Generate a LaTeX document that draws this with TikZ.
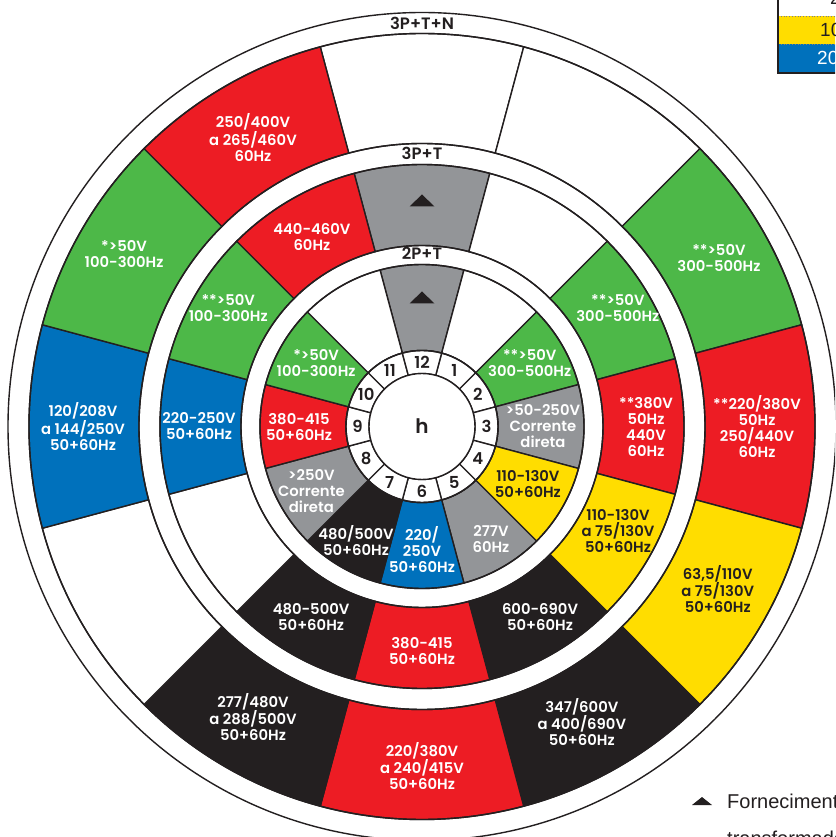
\documentclass[tikz,border=0pt]{standalone}
\usepackage{fontspec}
\setmainfont{Poppins}[BoldFont={Poppins SemiBold}]
\newfontfamily\capfont{Liberation Sans}
\usetikzlibrary{positioning}
\definecolor{segred}{RGB}{237,28,36}
\definecolor{seggreen}{RGB}{77,184,72}
\definecolor{segblue}{RGB}{0,113,188}
\definecolor{segyellow}{RGB}{255,221,0}
\definecolor{seggray}{RGB}{147,149,152}
\definecolor{ink}{RGB}{35,31,32}
\newcommand{\RingSeg}[4]{%
  \filldraw[fill=#4,draw=ink,line width=1.4pt,line join=round] (#3-15:#1) arc[start angle=#3-15,end angle=#3+15,radius=#1]
    -- (#3+15:#2) arc[start angle=#3+15,end angle=#3-15,radius=#2] -- cycle;}

\begin{document}
\begin{tikzpicture}[x=1pt,y=1pt]
    \tikzset{segtxt/.style={align=center,inner sep=0pt,text=white,
        font=\bfseries\fontsize{14.8}{16}\selectfont},
      darktxt/.style={segtxt,text=ink},
      bandtxt/.style={inner sep=0pt,text=ink,font=\bfseries\fontsize{16.5}{17}\selectfont},
      numtxt/.style={inner sep=0pt,text=ink,font=\bfseries\fontsize{16.5}{17}\selectfont},
      captxt/.style={anchor=base west,inner sep=0pt,text=ink,font=\capfont\fontsize{19}{19}\selectfont},
      ring/.style={draw=ink,line width=1.4pt}}
    \useasboundingbox (-422,-410.5) rectangle (413,426.5);
    \clip (-422,-410.5) rectangle (413,426.5);
    \fill[white] (-422,-410.5) rectangle (413,426.5);
    % 3P+T+N
    \RingSeg{283}{393}{90}{white}
    \RingSeg{283}{393}{60}{white}
    \RingSeg{283}{393}{30}{seggreen}
    \RingSeg{283}{393}{0}{segred}
    \RingSeg{283}{393}{-30}{segyellow}
    \RingSeg{283}{393}{-60}{ink}
    \RingSeg{283}{393}{-90}{segred}
    \RingSeg{283}{393}{-120}{ink}
    \RingSeg{283}{393}{-150}{white}
    \RingSeg{283}{393}{180}{segblue}
    \RingSeg{283}{393}{150}{seggreen}
    \RingSeg{283}{393}{120}{segred}
    % 3P+T
    \RingSeg{181}{262}{90}{seggray}
    \RingSeg{181}{262}{60}{white}
    \RingSeg{181}{262}{30}{seggreen}
    \RingSeg{181}{262}{0}{segred}
    \RingSeg{181}{262}{-30}{segyellow}
    \RingSeg{181}{262}{-60}{ink}
    \RingSeg{181}{262}{-90}{segred}
    \RingSeg{181}{262}{-120}{ink}
    \RingSeg{181}{262}{-150}{white}
    \RingSeg{181}{262}{180}{segblue}
    \RingSeg{181}{262}{150}{seggreen}
    \RingSeg{181}{262}{120}{segred}
    % 2P+T
    \RingSeg{76}{162}{90}{seggray}
    \RingSeg{76}{162}{60}{white}
    \RingSeg{76}{162}{30}{seggreen}
    \RingSeg{76}{162}{0}{seggray}
    \RingSeg{76}{162}{-30}{segyellow}
    \RingSeg{76}{162}{-60}{seggray}
    \RingSeg{76}{162}{-90}{segblue}
    \RingSeg{76}{162}{-120}{ink}
    \RingSeg{76}{162}{-150}{seggray}
    \RingSeg{76}{162}{180}{segred}
    \RingSeg{76}{162}{150}{seggreen}
    \RingSeg{76}{162}{120}{white}
    % hours
    \foreach \h in {1,...,12} {
      \RingSeg{53}{76}{90-30*\h}{white}
      \node[numtxt] (n\h) at ({90-30*\h}:64.5) {\h};
    }
    \draw[ring] (0,0) circle[radius=414];
    \draw[ring] (0,0) circle[radius=393];
    \draw[ring] (0,0) circle[radius=283];
    \draw[ring] (0,0) circle[radius=262];
    \draw[ring] (0,0) circle[radius=181];
    \draw[ring] (0,0) circle[radius=162];
    \draw[ring] (0,0) circle[radius=76];
    \draw[ring,fill=white] (0,0) circle[radius=53];
    \node[inner sep=0pt,text=ink,font=\bfseries\fontsize{20}{20}\selectfont] (h) at (0,0) {h};
    \node[bandtxt] (b3) at (90:403.5) {3P+T+N};
    \node[bandtxt] (b2) at (90:273) {3P+T};
    \node[bandtxt] (b1) at (90:173) {2P+T};
    % triangles
    \fill[ink] (0,226) ++(-12.5,-6) -- ++(25,0) -- ++(-12.5,12) -- cycle;
    \fill[ink] (0,129) ++(-12.5,-6) -- ++(25,0) -- ++(-12.5,12) -- cycle;
    % outer texts
    \node[segtxt] (o11) at (120.3:335) {250/400V\\a 265/460V\\60Hz};
    \node[segtxt] (o10) at (150:344) {*>50V\\100-300Hz};
    \node[segtxt] (o9) at (180:339) {120/208V\\a 144/250V\\50+60Hz};
    \node[segtxt] (o7) at (-120.2:336) {277/480V\\a 288/500V\\50+60Hz};
    \node[segtxt] (o6) at (-90:339.5) {220/380V\\a 240/415V\\50+60Hz};
    \node[segtxt] (o5) at (-61.6:336) {347/600V\\a 400/690V\\50+60Hz};
    \node[darktxt] (o4) at (-28.8:337.5) {63,5/110V\\a 75/130V\\50+60Hz};
    \node[segtxt] (o3) at (0:335) {**220/380V\\50Hz\\250/440V\\60Hz};
    \node[segtxt] (o2) at (29.6:341.5) {**>50V\\300-500Hz};
    % middle texts
    \node[segtxt] (m11) at (120.1:219.5) {440-460V\\60Hz};
    \node[segtxt] (m10) at (148.6:227) {**>50V\\100-300Hz};
    \node[segtxt] (m9) at (180:223) {220-250V\\50+60Hz};
    \node[segtxt] (m7) at (-120.2:220.5) {480-500V\\50+60Hz};
    \node[segtxt] (m6) at (-90:224.5) {380-415\\50+60Hz};
    \node[segtxt] (m5) at (-58.2:224) {600-690V\\50+60Hz};
    \node[darktxt] (m4) at (-28:222) {110-130V\\a 75/130V\\50+60Hz};
    \node[segtxt] (m3) at (0:224) {**380V\\50Hz\\440V\\60Hz};
    \node[segtxt] (m2) at (31.2:229) {**>50V\\300-500Hz};
    % inner texts
    \node[segtxt] (i10) at (149:123.5) {*>50V\\100-300Hz};
    \node[segtxt] (i9) at (180:123) {380-415\\50+60Hz};
    \node[segtxt] (i8) at (-149.8:128) {>250V\\Corrente\\direta};
    \node[segtxt] (i7) at (-120:132) {480/500V\\50+60Hz};
    \node[segtxt] (i6) at (-90:123.5) {220/\\250V\\50+60Hz};
    \node[segtxt] (i5) at (-58.5:132) {277V\\60Hz};
    \node[darktxt] (i4) at (-28.5:120.5) {110-130V\\50+60Hz};
    \node[segtxt] (i3) at (0:121) {>50-250V\\Corrente\\direta};
    \node[segtxt] (i2) at (30.5:125) {**>50V\\300-500Hz};
    % legend
    \fill[segyellow] (356,382.5) rectangle (420,410.5);
    \fill[segblue] (356,354.5) rectangle (420,382.5);
    \draw[gray,dotted,line width=0.8pt] (356,410.5) -- (420,410.5);
    \draw[gray,dotted,line width=0.8pt] (356,382.5) -- (420,382.5);
    \draw[ink,line width=2pt] (356,430) -- (356,353.5) -- (420,353.5);
    \node[captxt] (k1) at (408,421.5) {2};
    \node[captxt] (k2) at (398,389.5) {10};
    \node[captxt,text=white] (k3) at (395,361.5) {20};
    % note
    \fill[ink] (270,-378.5) -- (290,-378.5) -- (280,-370.5) -- cycle;
    \node[captxt,font=\capfont\fontsize{20}{20}\selectfont] (note1) at (305,-381.5) {Fornecimento};
    \node[captxt,font=\capfont\fontsize{20}{20}\selectfont] (note2) at (305,-418.5) {transformador};
\end{tikzpicture}
\end{document}
